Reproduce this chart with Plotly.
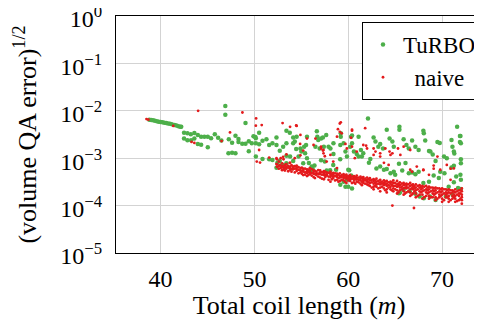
import plotly.graph_objects as go

# ---------------- data ----------------
turbo_x = [
    38.8, 39.0, 39.2, 39.4, 39.6, 39.8, 40.0, 40.2, 40.4, 40.6, 40.8, 41.0, 41.2, 41.5, 41.7, 41.9, 42.1, 42.2,
    42.5, 42.86, 43.22, 43.6, 43.97, 44.32, 44.67, 45.03, 45.38, 45.78, 46.13, 46.48,
    42.5, 42.86, 43.25, 43.6, 43.97, 44.32, 45.03,
    46.9, 46.9, 49.05, 47.23, 47.62, 47.98, 47.27, 47.62, 47.98, 48.3, 48.3, 48.7, 49.05, 49.4, 49.4,
    49.72, 50.15, 50.5, 50.15, 50.5, 50.86, 51.28, 51.57, 51.92, 52.35, 52.35, 52.7, 53.06, 53.41, 53.41,
    53.77, 54.13, 54.13, 50.15, 50.86, 51.57, 51.92, 52.7, 53.41, 52.35, 54.13, 49.9, 50.1,
    54.3, 54.45, 52.45, 52.95, 53.4, 53.8, 54.7, 54.9, 55.0,
    55.3, 55.4, 55.6, 55.8, 56.1, 56.4, 56.65, 56.7, 56.8, 57.1, 57.3, 57.65, 57.9, 58.1, 58.4, 58.7,
    59.15, 59.2, 59.2, 59.5, 59.7, 59.86, 60.0, 59.86, 59.15, 59.7, 56.5, 56.95, 57.4, 57.5,
    54.5, 55.6, 55.5, 55.2, 55.94, 56.2, 57.1, 57.7, 58.42, 58.42, 58.07, 59.14, 60.2, 60.4, 60.1, 59.5, 60.3,
    60.3, 60.4, 60.6, 60.9, 61.1, 61.35, 61.6, 62.1, 62.35, 62.2, 62.7, 62.9, 63.2, 63.4, 63.7, 64.1, 64.4,
    64.7, 64.85, 60.4, 60.0, 63.0, 63.4, 63.8, 64.1, 64.5, 64.85, 65.0, 61.45, 61.1,
    65.45, 65.45, 65.9, 66.2, 66.45, 66.8, 67.15, 67.5, 68.0, 68.05, 68.2, 68.6, 68.75, 69.0, 69.3, 69.5, 69.75,
    65.4, 65.75, 66.1, 66.45, 66.8, 67.15, 67.5, 68.0, 68.6, 69.1, 69.65, 69.8,
    65.5, 65.9, 66.55, 67.15, 67.6, 68.05, 68.7, 69.3, 65.4,
    70.2, 70.5, 71.0, 71.1, 71.25, 71.3, 71.6, 71.95, 72.0, 72.0, 72.0, 71.95, 72.0, 71.5, 71.25, 71.0,
    71.25, 70.7, 70.25, 70.4, 71.1, 71.7, 72.0, 71.9, 71.9,
]
turbo_y = [
    6.5e-3, 6.4e-3, 6.3e-3, 6.2e-3, 6.0e-3, 5.9e-3, 5.8e-3, 5.7e-3, 5.6e-3, 5.5e-3, 5.4e-3, 5.3e-3, 5.2e-3, 5.0e-3, 4.9e-3, 4.7e-3, 4.6e-3, 4.6e-3,
    3.45e-3, 3.35e-3, 3.2e-3, 3.4e-3, 3.1e-3, 2.85e-3, 2.85e-3, 2.85e-3, 2.65e-3, 3.2e-3, 2.7e-3, 2.35e-3,
    2.6e-3, 2.4e-3, 2.4e-3, 2.6e-3, 2.0e-3, 1.93e-3, 1.7e-3,
    1.26e-2, 8.3e-3, 5.5e-3, 1.27e-3, 1.3e-3, 1.27e-3, 2.5e-3, 2.12e-3, 2.98e-3, 2.54e-3, 2.2e-3, 2.02e-3, 2.02e-3, 2.27e-3, 1.4e-3,
    2.06e-3, 2.63e-3, 3.45e-3, 2.06e-3, 1.96e-3, 2.34e-3, 2.5e-3, 1.9e-3, 2.06e-3, 2.75e-3, 1.9e-3, 1.44e-3, 1.75e-3, 2.06e-3, 3.8e-3,
    3.45e-3, 2.75e-3, 2.06e-3, 1.08e-3, 9.6e-4, 9.5e-4, 9.2e-4, 8.7e-4, 1.13e-3, 6.3e-4, 8.7e-4, 2.9e-3, 2.8e-3,
    2.24e-3, 1.57e-3, 8.0e-4, 7.3e-4, 7.8e-4, 1.08e-3, 1.08e-3, 1.6e-3, 1.38e-3,
    1.75e-3, 1.27e-3, 1.0e-3, 7.9e-4, 6.65e-4, 7.0e-4, 3.7e-3, 2.85e-3, 2.42e-3, 2.6e-3, 2.75e-3, 3.1e-3, 1.75e-3, 1.6e-3, 7.2e-4, 5.7e-4,
    1.9e-3, 2.85e-3, 3.35e-3, 2.06e-3, 1.38e-3, 1.08e-3, 5.7e-4, 3.5e-4, 2.75e-4, 2.5e-4, 1.75e-3, 1.6e-3, 1.75e-3, 8.5e-4,
    2.84e-3, 2.84e-3, 1.9e-3, 7.8e-4, 5.3e-4, 5.9e-4, 9.0e-4, 5.5e-4, 2.06e-3, 1.23e-3, 5.6e-4, 9.5e-4, 1.75e-3, 3.0e-3, 5.6e-4, 3.2e-4, 4.3e-4,
    2.85e-3, 2.06e-3, 1.38e-3, 1.23e-3, 1.08e-3, 1.49e-3, 1.27e-3, 6.9e-3, 9.6e-4, 8.0e-4, 2.75e-3, 2.24e-3, 1.75e-3, 2.0e-3, 1.6e-3, 4.0e-3, 2.6e-3,
    2.24e-3, 1.75e-3, 2.3e-4, 2.5e-4, 6.1e-4, 6.65e-4, 5.7e-4, 5.9e-4, 4.8e-4, 5.2e-4, 4.45e-4, 1.08e-3, 2.84e-3,
    4.6e-3, 4.0e-3, 2.5e-3, 1.9e-3, 1.6e-3, 2.35e-3, 1.75e-3, 1.49e-3, 3.8e-3, 3.35e-3, 2.35e-3, 1.42e-3, 1.38e-3, 1.2e-3, 8.7e-4, 2.2e-3, 2.1e-3,
    7.6e-4, 5.5e-4, 7.9e-4, 4.8e-4, 5.0e-4, 4.6e-4, 5.2e-4, 3.0e-4, 3.2e-4, 4.3e-4, 3.8e-4, 5.2e-4,
    1.9e-4, 2.15e-4, 2.0e-4, 1.77e-4, 1.55e-4, 1.43e-4, 1.55e-4, 1.32e-4, 1.83e-4,
    1.08e-3, 1.0e-3, 2.42e-3, 1.75e-3, 1.38e-3, 1.25e-3, 4.6e-3, 2.95e-3, 2.06e-3, 9.5e-4, 7.8e-4, 4.45e-4, 3.5e-4, 4.1e-4, 3.1e-4, 6.4e-4,
    6.9e-4, 2.5e-4, 4.8e-4, 1.55e-4, 1.7e-4, 2.35e-4, 2.25e-4, 2.95e-3, 2.2e-3,
]

# naive: dense band, one column of values per x position
naive_band_x = [
    52.4, 52.8, 53.1, 53.4, 53.8, 54.1, 54.5, 54.9, 55.2, 55.6, 55.9, 56.3, 56.6, 57.0, 57.4, 57.7,
    58.1, 58.4, 58.8, 59.1, 59.5, 59.8, 60.2, 60.6, 60.9, 61.3, 61.6, 62.0, 62.3, 62.7, 63.0, 63.4,
    63.8, 64.1, 64.5, 64.8, 65.2, 65.5, 65.9, 66.2, 66.6, 66.9, 67.2, 67.6, 67.9, 68.3, 68.6, 69.0,
    69.3, 69.7, 70.0, 70.4, 70.7, 71.1, 71.4, 71.8, 72.1,
]
naive_band_y = [
    [9.5e-4, 7.5e-4, 6.6e-4], [1.0e-3, 7.0e-4, 6.2e-4], [9.5e-4, 6.8e-4, 6.4e-4, 5.8e-4], [7.5e-4, 6.6e-4, 6.0e-4],
    [8.0e-4, 6.1e-4, 5.7e-4, 6.6e-4], [6.6e-4, 5.8e-4, 6.2e-4], [7.0e-4, 6.4e-4, 5.9e-4, 5.4e-4], [6.2e-4, 5.6e-4, 5.0e-4],
    [6.0e-4, 5.5e-4, 5.2e-4, 4.4e-4], [5.8e-4, 5.3e-4, 4.9e-4, 4.2e-4], [6.2e-4, 5.4e-4, 5.0e-4, 4.6e-4], [5.6e-4, 5.1e-4, 4.7e-4, 4.0e-4],
    [5.2e-4, 4.8e-4, 4.4e-4], [5.5e-4, 5.0e-4, 4.6e-4, 3.9e-4], [5.3e-4, 4.9e-4, 4.4e-4, 3.6e-4], [5.0e-4, 4.6e-4, 4.3e-4],
    [5.2e-4, 4.8e-4, 4.4e-4, 4.0e-4, 3.2e-4], [4.9e-4, 4.5e-4, 4.1e-4, 3.8e-4], [4.7e-4, 4.4e-4, 4.0e-4, 3.5e-4], [4.8e-4, 4.2e-4, 3.9e-4, 3.3e-4],
    [4.6e-4, 4.2e-4, 3.8e-4, 3.4e-4], [4.5e-4, 4.0e-4, 3.7e-4, 3.0e-4], [4.4e-4, 4.0e-4, 3.6e-4, 3.3e-4], [4.2e-4, 3.8e-4, 3.5e-4, 3.1e-4],
    [4.3e-4, 3.9e-4, 3.6e-4, 3.2e-4], [4.1e-4, 3.7e-4, 3.4e-4, 2.9e-4], [4.0e-4, 3.6e-4, 3.3e-4, 3.0e-4], [3.9e-4, 3.5e-4, 3.2e-4, 2.8e-4],
    [3.8e-4, 3.4e-4, 3.0e-4, 2.6e-4], [3.6e-4, 3.3e-4, 2.9e-4, 2.5e-4, 2.2e-4], [3.7e-4, 3.2e-4, 2.8e-4, 2.5e-4], [3.5e-4, 3.1e-4, 2.8e-4, 2.4e-4, 2.0e-4],
    [3.4e-4, 3.0e-4, 2.7e-4, 2.3e-4], [3.3e-4, 2.9e-4, 2.6e-4, 2.2e-4, 1.9e-4], [3.2e-4, 2.9e-4, 2.5e-4, 2.2e-4], [3.4e-4, 3.0e-4, 2.6e-4, 2.3e-4, 2.0e-4],
    [3.3e-4, 2.8e-4, 2.5e-4, 2.1e-4, 1.8e-4], [3.1e-4, 2.7e-4, 2.4e-4, 2.1e-4], [3.0e-4, 2.7e-4, 2.3e-4, 2.0e-4, 1.7e-4], [2.9e-4, 2.6e-4, 2.3e-4, 1.9e-4],
    [3.0e-4, 2.6e-4, 2.2e-4, 1.9e-4, 1.6e-4], [2.8e-4, 2.5e-4, 2.2e-4, 1.8e-4], [2.8e-4, 2.4e-4, 2.1e-4, 1.8e-4, 1.5e-4], [2.7e-4, 2.4e-4, 2.0e-4, 1.7e-4],
    [2.6e-4, 2.3e-4, 2.0e-4, 1.7e-4, 1.4e-4], [2.6e-4, 2.2e-4, 1.9e-4, 1.6e-4], [2.5e-4, 2.2e-4, 1.9e-4, 1.6e-4, 1.4e-4], [2.4e-4, 2.1e-4, 1.8e-4, 1.5e-4],
    [2.4e-4, 2.1e-4, 1.8e-4, 1.5e-4, 1.3e-4], [2.3e-4, 2.0e-4, 1.7e-4, 1.5e-4], [2.3e-4, 2.0e-4, 1.7e-4, 1.4e-4, 1.2e-4], [2.2e-4, 1.9e-4, 1.7e-4, 1.5e-4],
    [2.2e-4, 1.9e-4, 1.6e-4, 1.4e-4, 1.2e-4], [2.1e-4, 1.9e-4, 1.6e-4, 1.4e-4], [2.2e-4, 1.9e-4, 1.6e-4, 1.4e-4, 1.2e-4], [2.1e-4, 1.8e-4, 1.6e-4, 1.3e-4],
    [2.3e-4, 2.0e-4, 1.7e-4, 1.5e-4, 1.3e-4, 1.1e-4],
]
# naive: second set of band columns, between the first ones
naive_band2_x = [
    52.6, 52.95, 53.25, 53.6, 53.95, 54.3, 54.7, 55.05, 55.4, 55.75, 56.1, 56.45, 56.8, 57.2,
    57.55, 57.9, 58.25, 58.6, 58.95, 59.3, 59.65, 60.0, 60.4, 60.75, 61.1, 61.45, 61.8, 62.15,
    62.5, 62.85, 63.2, 63.6, 63.95, 64.3, 64.65, 65.0, 65.35, 65.7, 66.05, 66.4, 66.75, 67.05,
    67.4, 67.75, 68.1, 68.45, 68.8, 69.15, 69.5, 69.85, 70.2, 70.55, 70.9, 71.25, 71.6, 71.95,
]
naive_band2_y = [
    [8.5e-4, 6.9e-4, 6.0e-4], [7.8e-4, 6.5e-4, 5.6e-4], [7.2e-4, 6.2e-4, 5.5e-4], [6.9e-4, 6.3e-4, 5.3e-4],
    [7.1e-4, 5.9e-4, 5.2e-4], [6.8e-4, 6.0e-4, 5.0e-4], [6.5e-4, 5.7e-4, 4.8e-4], [6.3e-4, 5.4e-4, 4.7e-4],
    [6.0e-4, 5.0e-4, 4.5e-4], [5.7e-4, 5.1e-4, 4.4e-4], [5.9e-4, 4.9e-4, 4.3e-4], [5.4e-4, 4.6e-4, 3.8e-4],
    [5.6e-4, 4.7e-4, 4.1e-4], [5.1e-4, 4.5e-4, 3.7e-4], [5.2e-4, 4.5e-4, 4.0e-4], [4.9e-4, 4.1e-4, 3.5e-4],
    [4.7e-4, 4.3e-4, 3.6e-4], [4.8e-4, 4.2e-4, 3.4e-4], [4.5e-4, 3.8e-4, 3.2e-4], [4.4e-4, 4.0e-4, 3.5e-4],
    [4.3e-4, 3.9e-4, 3.2e-4], [4.2e-4, 3.8e-4, 3.4e-4], [4.1e-4, 3.7e-4, 3.0e-4], [4.0e-4, 3.6e-4, 2.9e-4],
    [3.9e-4, 3.5e-4, 3.1e-4], [3.8e-4, 3.2e-4, 2.7e-4], [3.7e-4, 3.4e-4, 2.9e-4], [3.6e-4, 3.1e-4, 2.7e-4],
    [3.5e-4, 3.1e-4, 2.4e-4], [3.4e-4, 3.0e-4, 2.6e-4], [3.3e-4, 2.9e-4, 2.3e-4], [3.2e-4, 2.9e-4, 2.5e-4],
    [3.2e-4, 2.8e-4, 2.1e-4], [3.1e-4, 2.7e-4, 2.4e-4], [3.1e-4, 2.7e-4, 2.1e-4], [3.0e-4, 2.6e-4, 2.2e-4],
    [2.9e-4, 2.6e-4, 1.9e-4], [2.9e-4, 2.5e-4, 2.2e-4], [2.8e-4, 2.4e-4, 1.8e-4], [2.8e-4, 2.4e-4, 2.0e-4],
    [2.7e-4, 2.3e-4, 1.7e-4], [2.6e-4, 2.3e-4, 2.0e-4], [2.6e-4, 2.2e-4, 1.6e-4], [2.5e-4, 2.2e-4, 1.9e-4],
    [2.5e-4, 2.1e-4, 1.5e-4], [2.4e-4, 2.1e-4, 1.8e-4], [2.4e-4, 2.0e-4, 1.5e-4], [2.3e-4, 2.0e-4, 1.7e-4],
    [2.3e-4, 1.9e-4, 1.4e-4], [2.2e-4, 1.9e-4, 1.6e-4], [2.2e-4, 1.8e-4, 1.3e-4], [2.1e-4, 1.8e-4, 1.5e-4],
    [2.1e-4, 1.8e-4, 1.3e-4], [2.0e-4, 1.7e-4, 1.5e-4], [2.0e-4, 1.7e-4, 1.25e-4], [2.1e-4, 1.8e-4, 1.4e-4],
]
# naive: scattered points outside the band
naive_x = [
    38.5, 38.7, 41.35, 43.3, 43.6, 44.0, 46.5, 47.4, 48.72, 50.18, 50.78, 50.25, 50.6, 50.15, 50.5, 51.57,
    52.35, 53.06, 53.41, 53.77, 54.13, 53.0, 53.8, 54.45, 54.9, 55.6, 56.5, 57.1, 57.3, 57.5, 58.9, 59.2,
    59.3, 59.7, 60.4, 61.8, 61.9, 62.7, 62.9, 63.4, 63.95, 64.4, 64.7, 65.55, 66.6, 67.3, 68.0, 68.6,
    69.1, 69.5, 69.8, 70.5, 71.25, 64.7, 67.0, 70.9, 54.5, 54.87, 55.2, 54.9, 54.3, 57.36, 57.36, 57.7,
    58.4, 58.8, 58.1, 59.1, 59.1, 58.8, 59.85, 60.4, 60.3, 60.4, 56.3, 57.1, 61.6, 62.0, 60.9, 60.7,
    62.7, 63.4, 64.5, 65.3, 65.9, 66.6, 63.8, 64.3, 66.8, 68.0, 69.1, 70.9, 52.7, 53.06, 52.35,
]
naive_y = [
    6.7e-3, 6.5e-3, 4.8e-3, 2.2e-3, 2.1e-3, 1.0e-2, 2.3e-3, 3.5e-3, 9.2e-3, 6.9e-3, 5.0e-3, 8.5e-4, 8.1e-4, 4.85e-3, 1.49e-3, 1.03e-3,
    1.0e-3, 1.07e-3, 1.2e-3, 8.0e-4, 6.6e-4, 5.5e-3, 4.6e-3, 4.9e-3, 3.1e-3, 2.6e-3, 2.6e-3, 1.75e-3, 1.45e-3, 1.1e-3, 4.1e-3, 5.7e-3,
    3.35e-3, 2.0e-3, 3.8e-3, 4.3e-3, 1.84e-3, 1.6e-3, 1.38e-3, 1.08e-3, 1.6e-3, 1.38e-3, 1.27e-3, 1.17e-3, 5.7e-4, 6.65e-4, 5.7e-4, 4.45e-4,
    7.0e-4, 1.08e-3, 5.7e-4, 7.2e-4, 6.1e-4, 1.0e-4, 8.9e-5, 3.5e-4, 4.8e-3, 2.0e-3, 1.45e-3, 1.15e-3, 1.0e-3, 1.49e-3, 1.27e-3, 8.5e-4,
    8.5e-4, 6.2e-4, 1.17e-3, 5.4e-3, 3.6e-3, 2.84e-3, 1.6e-3, 4.0e-3, 2.7e-3, 1.75e-3, 1.9e-3, 1.6e-3, 1.9e-3, 1.6e-3, 1.38e-3, 1.0e-3,
    1.17e-3, 1.27e-3, 1.17e-3, 1.6e-3, 1.75e-3, 1.49e-3, 8.0e-4, 7.2e-4, 5.2e-4, 5.6e-4, 6.0e-4, 6.0e-4, 7.1e-4, 6.8e-4, 7.5e-4,
]

y_tickvals = [1e-5, 1e-4, 1e-3, 1e-2, 1e-1, 1e0]
y_ticktext = ["10<sup>−5</sup>", "10<sup>−4</sup>", "10<sup>−3</sup>", "10<sup>−2</sup>", "10<sup>−1</sup>", "10<sup>0</sup>"]
x_tickvals = [40, 50, 60, 70]

# ---------------- build ----------------
naive_all_x = []
naive_all_y = []
for cols_x, cols_y in ((naive_band_x, naive_band_y), (naive_band2_x, naive_band2_y)):
    for xc, ys in zip(cols_x, cols_y):
        for yv in ys:
            naive_all_x.append(xc)
            naive_all_y.append(yv)
naive_all_x += naive_x
naive_all_y += naive_y

GREEN = "#4daf4a"
RED = "#e41a1c"
FONT = "Liberation Serif"

fig = go.Figure()
fig.add_trace(go.Scatter(
    x=turbo_x, y=turbo_y, mode="markers", name="TuRBO",
    marker=dict(color=GREEN, size=4.5, line=dict(width=0)),
))
fig.add_trace(go.Scatter(
    x=naive_all_x, y=naive_all_y, mode="markers", name="\u00a0\u00a0naive",
    marker=dict(color=RED, size=2.8, line=dict(width=0)),
))

# page has an 8px body margin, so the figure is 8px smaller than the window
fig.update_layout(
    width=474, height=312,
    margin=dict(l=108, r=0, t=8, b=67, autoexpand=False),
    paper_bgcolor="white", plot_bgcolor="white",
    font=dict(family=FONT, size=22, color="black"),
    showlegend=True,
    legend=dict(
        x=1.0, y=0.975, xanchor="right", yanchor="top",
        bordercolor="black", borderwidth=1, bgcolor="white",
        font=dict(family=FONT, size=23, color="black"),
        itemsizing="trace", tracegroupgap=0,
    ),
)
fig.update_xaxes(
    range=[35.25, 74.25], tickvals=x_tickvals, ticks="",
    showgrid=True, gridcolor="#d3d3d3", gridwidth=1,
    showline=True, linecolor="black", linewidth=1, mirror=True,
    zeroline=False, tickfont=dict(size=24), ticklabelstandoff=4,
    title=dict(text="Total coil length (<i>m</i>)", font=dict(size=26), standoff=5),
)
fig.update_yaxes(
    type="log", range=[-5, 0], tickvals=y_tickvals, ticktext=y_ticktext, ticks="",
    showgrid=True, gridcolor="#d3d3d3", gridwidth=1,
    showline=True, linecolor="black", linewidth=1, mirror=False,
    zeroline=False, tickfont=dict(size=24), ticklabelstandoff=8,
    ticklabeloverflow="allow", ticklabelshift=3,
    title=dict(text="(volume QA error)<sup>1/2</sup>", font=dict(size=26), standoff=16),
)

fig.write_html("out.html")
